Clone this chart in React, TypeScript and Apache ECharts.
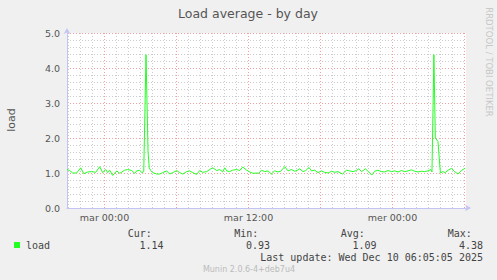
import React, { useEffect, useRef } from "react";
import * as echarts from "echarts";

// Sample positions in hours relative to Tuesday 00:00, and load values
const sampleHours = [
  -3.12, -2.9, -2.65, -2.32, -1.98, -1.73, -1.4, -1.07, -0.73, -0.4, -0.15, 0.1, 0.27, 0.43, 0.68,
  1.02, 1.27, 1.68, 1.93, 2.27, 2.52, 2.68, 2.93, 3.1, 3.27, 3.46, 3.63, 3.73, 3.85, 4.02, 4.35,
  4.6, 4.85, 5.18, 5.43, 5.68, 6.02, 6.27, 6.52, 6.85, 7.1, 7.35, 7.68, 7.93, 8.18, 8.52, 8.77,
  9.02, 9.35, 9.6, 9.85, 10.02, 10.18, 10.43, 10.68, 11.02, 11.27, 11.52, 11.85, 12.1, 12.38,
  12.66, 12.85, 13.08, 13.35, 13.63, 13.91, 14.18, 14.46, 14.68, 15.02, 15.29, 15.58, 15.85,
  16.13, 16.27, 16.54, 16.77, 17.04, 17.24, 17.52, 17.79, 18.08, 18.35, 18.63, 18.91, 19.18,
  19.46, 19.83, 20.16, 20.43, 20.71, 20.99, 21.18, 21.43, 21.74, 22.02, 22.27, 22.52, 22.79,
  23.08, 23.35, 23.63, 23.91, 24.18, 24.46, 24.74, 25.02, 25.29, 25.58, 25.85, 26.13, 26.41,
  26.68, 26.96, 27.18, 27.29, 27.45, 27.57, 27.79, 27.99, 28.18, 28.39, 28.63, 28.91, 29.18,
  29.46, 29.74, 30.06,
];
const loadValues = [
  1.1, 1.07, 1.0, 1.0, 1.15, 0.98, 1.03, 1.04, 1.02, 1.18, 1.01, 1.1, 1.01, 1.08, 0.93,
  1.06, 0.99, 1.08, 1.1, 1.07, 0.99, 1.06, 1.08, 1.01, 1.04, 4.38, 1.6, 1.15, 1.07, 1.01, 0.97,
  0.97, 1.01, 1.06, 0.97, 1.01, 1.07, 1.01, 0.97, 1.04, 1.06, 1.01, 0.96, 1.07, 1.02, 1.04, 1.1,
  1.15, 1.07, 1.1, 1.03, 1.15, 1.06, 1.04, 1.08, 1.1, 1.07, 1.17, 1.08, 1.03, 0.99,
  1.0, 0.99, 1.08, 1.04, 1.06, 0.97, 1.06, 1.03, 1.05, 1.18, 1.06, 1.1, 1.05,
  1.09, 1.12, 1.04, 1.07, 1.16, 1.06, 1.08, 1.01, 1.06, 1.02, 1.0, 1.05, 1.02,
  1.04, 0.97, 1.08, 1.06, 1.04, 1.07, 1.12, 1.04, 1.12, 1.03, 0.94, 1.05, 1.08,
  1.04, 1.03, 1.07, 1.04, 1.06, 1.03, 1.07, 1.04, 1.06, 1.09, 1.05, 1.03, 1.05,
  1.04, 1.06, 1.1, 1.03, 4.38, 2.0, 1.9, 1.0, 1.04, 1.01, 1.08, 1.13, 1.04,
  0.97, 1.07, 1.14,
];

const xTickHours = [0, 12, 24];
const xTickLabels = ["mar 00:00", "mar 12:00", "mer 00:00"];
const minorGridHours = [-3, -2, -1, 1, 2, 3, 4, 5, 7, 8, 9, 10, 11, 13, 14, 15, 16, 17, 19, 20, 21, 22, 23, 25, 26, 27, 28, 29];
const majorGridHours = [0, 6, 12, 18, 24, 30];

const statLabels = ["Cur:", "Min:", "Avg:", "Max:"];
const statValues = ["1.14", "0.93", "1.09", "4.38"];
const seriesName = "load";
const titleText = "Load average - by day";
const lastUpdate = "Last update: Wed Dec 10 06:05:05 2025";
const footerText = "Munin 2.0.6-4+deb7u4";
const sideText = "RRDTOOL / TOBI OETIKER";

const MONO = "'DejaVu Sans Mono', monospace";
const SANS = "'DejaVu Sans', sans-serif";
const GREEN = "#22ff22";
const AXIS_COLOR = "#c4c4f4";
const MAJOR = "#f4a0a0";
const MINOR = "#cccccc";

function txt(text: string, x: number, y: number, opts: any = {}) {
  const align = opts.align || "left";
  return {
    type: "text",
    x,
    y,
    rotation: opts.rotation || 0,
    silent: true,
    style: {
      text,
      fill: opts.fill || "#444",
      fontSize: opts.fontSize || 10,
      fontFamily: opts.fontFamily || MONO,
      align,
      textAlign: align,
      verticalAlign: "middle",
      textVerticalAlign: "middle",
    },
  };
}

function gridSeries(name: string, hours: number[], color: string, z: number) {
  return {
    type: "line",
    name,
    data: [[-3.125, null]],
    z,
    silent: true,
    showSymbol: false,
    color,
    markLine: {
      silent: true,
      symbol: ["none", "none"],
      label: { show: false },
      animation: false,
      lineStyle: { color, type: [1, 2], width: 1 },
      data: hours.map((h) => ({ xAxis: h })),
    },
  };
}

export default function App() {
  const ref = useRef<HTMLDivElement>(null);

  useEffect(() => {
    if (!ref.current) return;
    const chart = echarts.init(ref.current, undefined, { renderer: "svg" });

    const lineData = sampleHours.map((h, i) => [h, loadValues[i]]);
    const statLabelX = [127.7, 234.3, 340.7, 447.7];
    const statValueRight = [163.5, 270, 376.5, 483];

    const graphics: any[] = [
      txt(titleText, 248, 13, { fontFamily: SANS, fontSize: 12.5, fill: "#555", align: "center" }),
      txt("load", 11, 120, { fontFamily: SANS, fontSize: 11, fill: "#555", align: "center", rotation: Math.PI / 2 }),
      txt(sideText, 488.5, 62, { fontFamily: SANS, fontSize: 8.5, fill: "#c8c8c8", align: "center", rotation: -Math.PI / 2 }),
      {
        type: "rect",
        shape: { x: 14, y: 242, width: 6, height: 6 },
        style: { fill: GREEN },
        silent: true,
      },
      txt(seriesName, 26, 245),
      txt(lastUpdate, 483, 257, { align: "right" }),
      txt(footerText, 249, 269, { fontFamily: SANS, fontSize: 8, fill: "#bbbbbb", align: "center" }),
    ];
    statLabels.forEach((l, i) => graphics.push(txt(l, statLabelX[i], 233)));
    statValues.forEach((v, i) => graphics.push(txt(v, statValueRight[i], 245, { align: "right" })));

    chart.setOption({
      animation: false,
      backgroundColor: "#f0f0f0",
      grid: {
        left: 67,
        right: 31,
        top: 33,
        bottom: 72,
        show: true,
        backgroundColor: "#ffffff",
        borderWidth: 0,
        containLabel: false,
      },
      xAxis: {
        type: "value",
        min: -3.125,
        max: 30.125,
        splitLine: { show: false },
        axisTick: { show: false },
        axisLine: {
          show: true,
          onZero: false,
          lineStyle: { color: AXIS_COLOR, width: 1 },
          symbol: ["none", "arrow"],
          symbolSize: [5, 6],
          symbolOffset: [0, 5],
        },
        axisLabel: {
          customValues: xTickHours,
          formatter: (v: number) => {
            const idx = xTickHours.indexOf(Math.round(v));
            return idx >= 0 ? xTickLabels[idx] : "";
          },
          color: "#555",
          fontFamily: SANS,
          fontSize: 9.5,
          margin: 4,
        },
      },
      yAxis: {
        type: "value",
        min: 0,
        max: 5,
        interval: 1,
        axisTick: { show: false },
        axisLine: {
          show: true,
          onZero: false,
          lineStyle: { color: AXIS_COLOR, width: 1 },
          symbol: ["none", "arrow"],
          symbolSize: [5, 6],
          symbolOffset: [0, 5],
        },
        axisLabel: {
          formatter: (v: number) => v.toFixed(1),
          color: "#555",
          fontFamily: SANS,
          fontSize: 9.5,
          margin: 7,
        },
        splitLine: { show: true, lineStyle: { color: MAJOR, type: [1, 2], width: 1 } },
        minorTick: { show: false, splitNumber: 5 },
        minorSplitLine: { show: true, lineStyle: { color: MINOR, type: [1, 2], width: 1 } },
      },
      series: [
        gridSeries("minorGrid", minorGridHours, MINOR, 1),
        gridSeries("majorGrid", majorGridHours, MAJOR, 2),
        {
          type: "line",
          name: seriesName,
          data: lineData,
          z: 5,
          showSymbol: false,
          symbol: "none",
          lineStyle: { color: GREEN, width: 1 },
          itemStyle: { color: GREEN },
        },
      ],
      graphic: graphics,
    });

    return () => chart.dispose();
  }, []);

  return (
    <div
      ref={ref}
      style={{ position: "fixed", left: 0, top: 0, width: 497, height: 280, background: "#f0f0f0" }}
    />
  );
}
